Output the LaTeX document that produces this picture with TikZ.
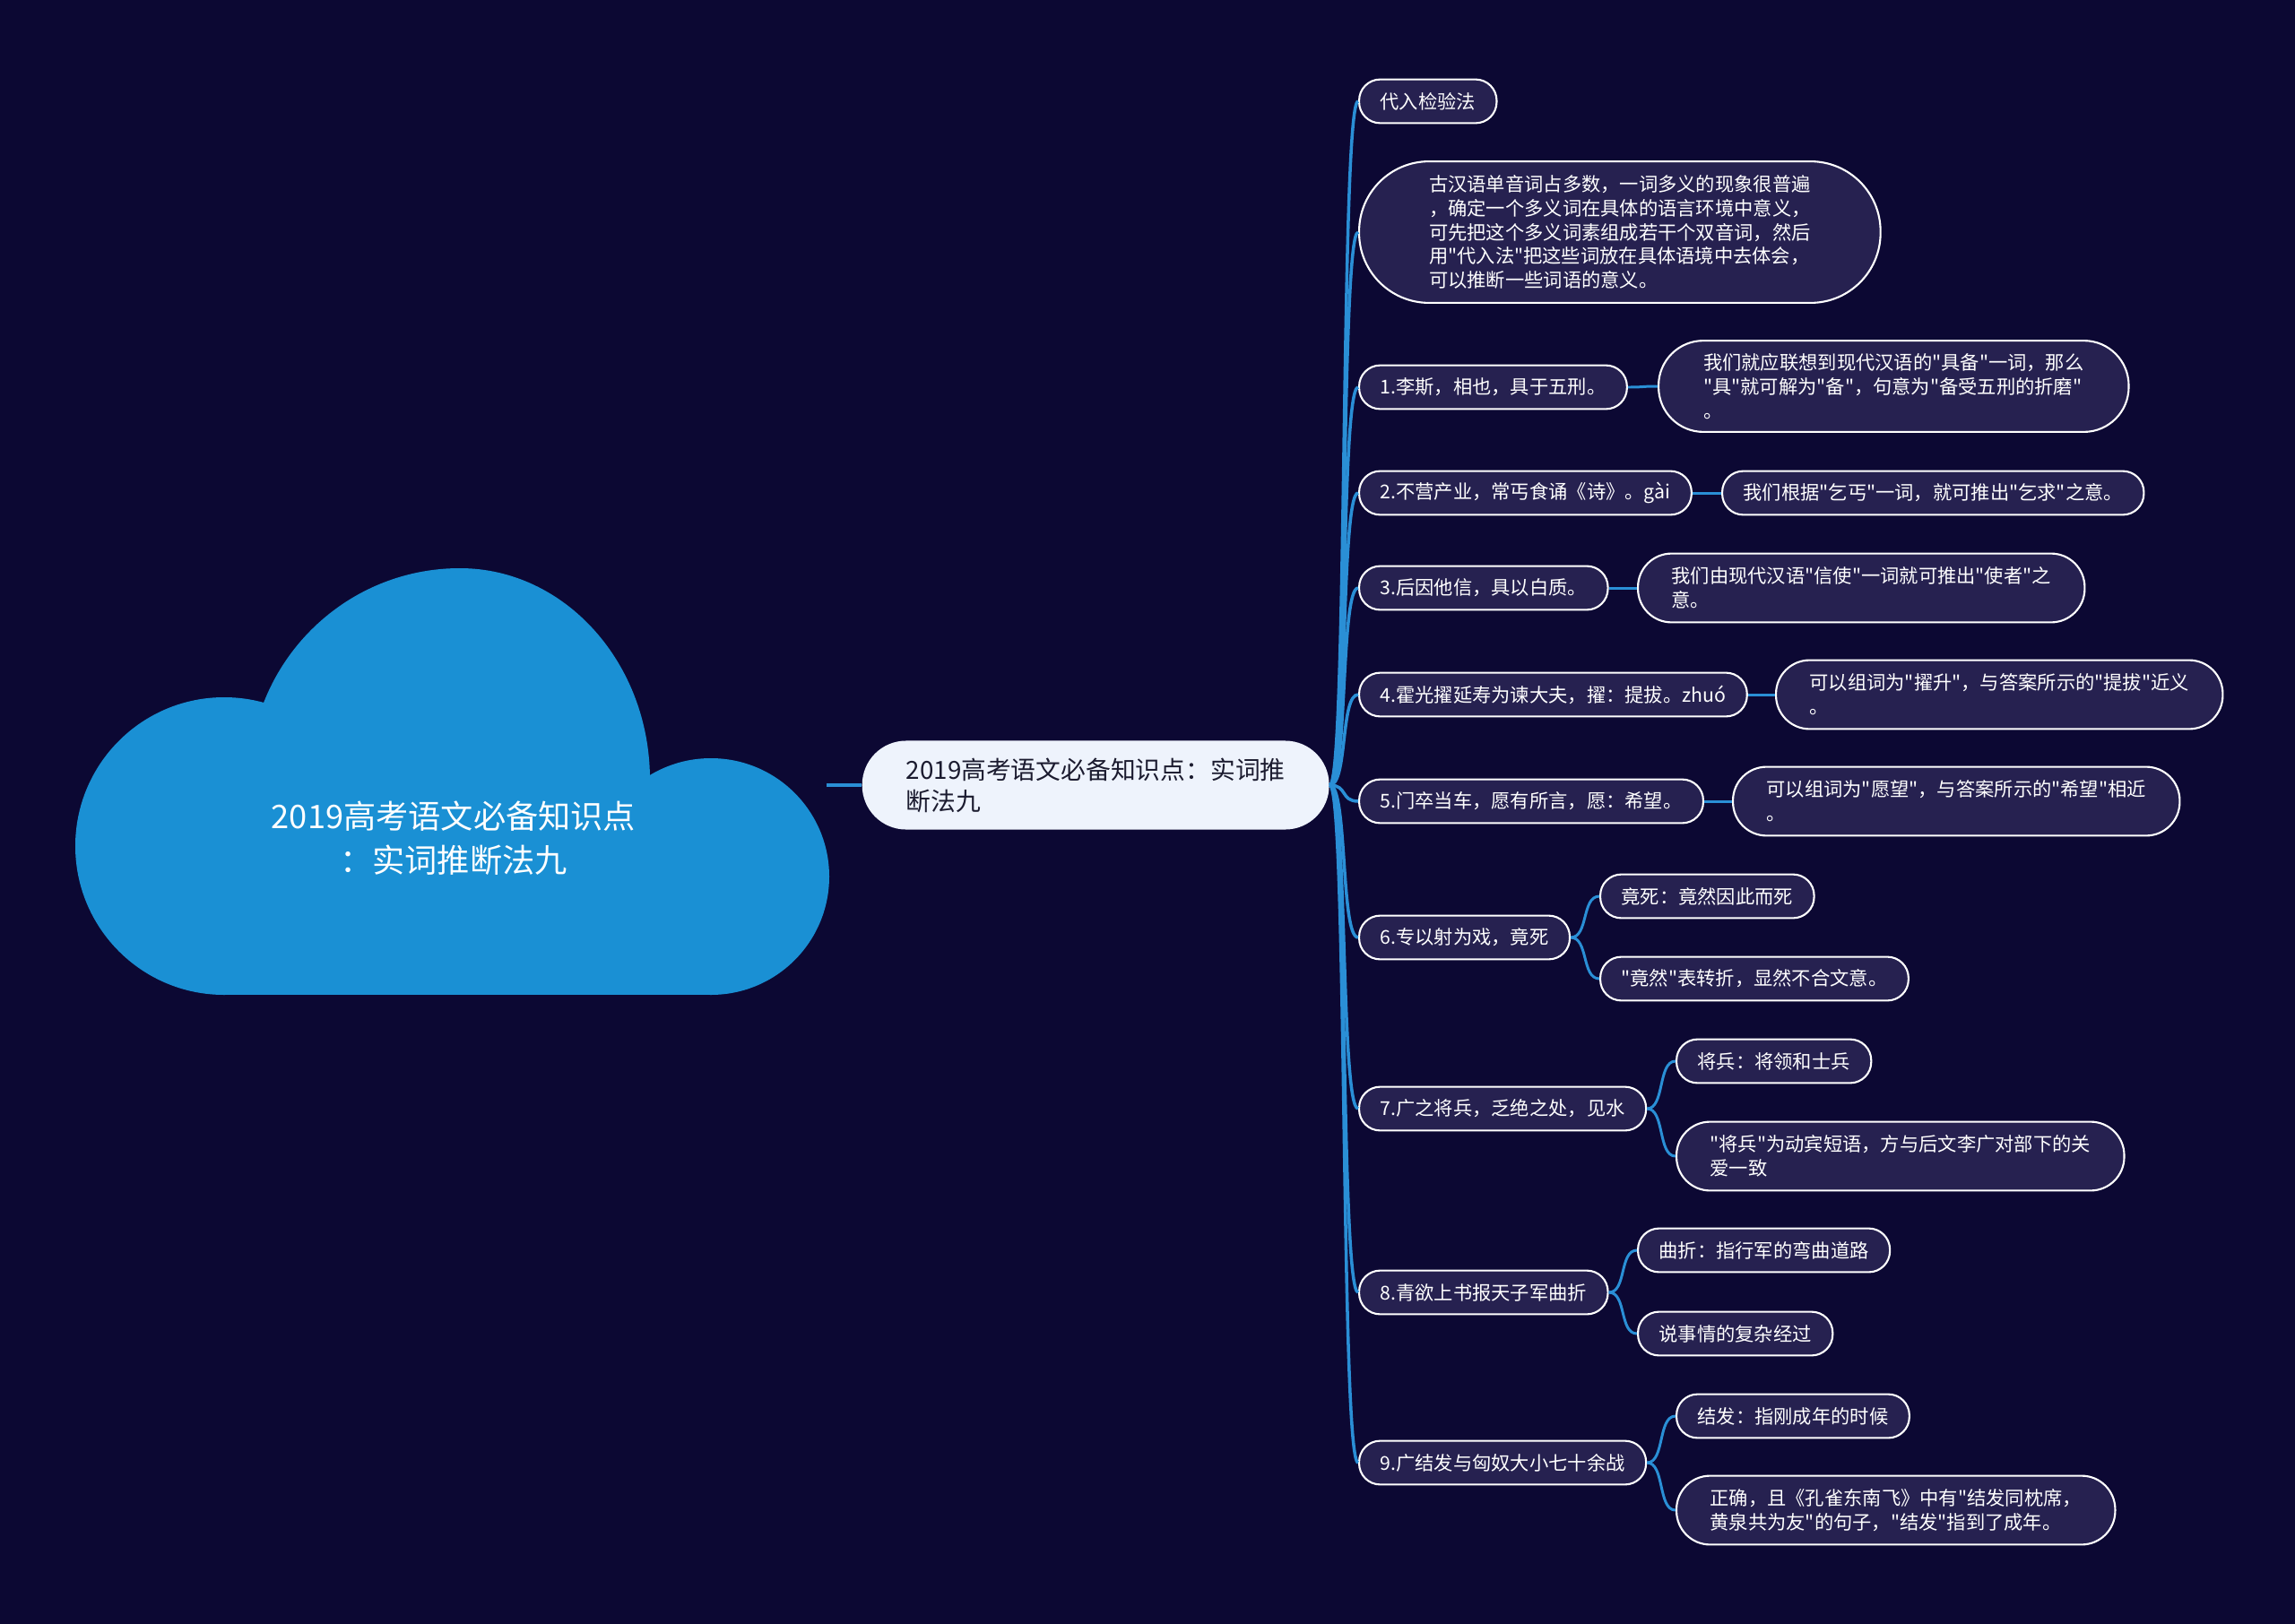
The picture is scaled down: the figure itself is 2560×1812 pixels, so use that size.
\documentclass[tikz,border=0pt]{standalone}
\usepackage{fontspec}
\setmainfont{Noto Sans CJK SC}[Ligatures=TeXOff]
\usetikzlibrary{positioning}
\definecolor{night}{HTML}{0C0833}
\definecolor{capsule}{HTML}{262150}
\definecolor{sky}{HTML}{1A90D4}
\definecolor{wire}{HTML}{2A8FD6}
\definecolor{paper}{HTML}{EEF3FC}
\definecolor{inkdark}{HTML}{1B1B2F}
\newcommand{\leaf}{\fontsize{6.05pt}{7.6pt}\selectfont}
\tikzset{
  % one capsule style; the argument is the half height (= side padding = corner radius)
  pill/.style={draw=white, fill=capsule, line width=0.6pt, text=white, font=\leaf, align=left, anchor=west,
               inner ysep=0pt, inner xsep=#1, minimum height=2*#1+0.5pt, rounded corners=#1},
  pill/.default=0.235cm,
  hubnode/.style={fill=paper, text=inkdark, align=left, anchor=west, font=\fontsize{7.9pt}{10pt}\selectfont,
                  inner ysep=0pt, inner xsep=0.49cm, minimum height=0.99cm, rounded corners=0.49cm},
  link/.style={wire, line width=1pt},
  sublink/.style={wire, line width=0.85pt},
}

\begin{document}
\begin{tikzpicture}[x=0.01cm, y=-0.01cm]
  \useasboundingbox (0,0) rectangle (2560,1812);
  \fill[night] (0,0) rectangle (2560,1812);

  % ---- the cloud on the left ----
  \begin{scope}
    \clip (0,0) rectangle (2560,1110);
    \fill[sky] (250,944) circle[radius=166];
    \fill[sky] (793,978) circle[radius=132];
    \fill[sky] (250,870) rectangle (793,1110);
    \begin{scope}
      \clip (0,0) rectangle (513,1110);
      \fill[sky] (513,870) ellipse[x radius=235, y radius=236];
    \end{scope}
    \begin{scope}
      \clip (513,0) rectangle (925,1110);
      \fill[sky] (513,870) ellipse[x radius=212, y radius=236];
    \end{scope}
  \end{scope}
  \node[text=white, align=center, font=\fontsize{10.3pt}{14pt}\selectfont] (root) at (506,935)
        {2019高考语文必备知识点\\：实词推断法九};
  \coordinate (rim) at (922,876);

  % ---- hub ----
  \node[hubnode] (hub) at (961,876) {2019高考语文必备知识点：实词推\\断法九};
  \draw[link] (rim) -- (hub.west);

  % ---- first level ----
  \node[pill] (n0)  at (1515,113)  {代入检验法};
  \node[pill=0.78cm] (n1) at (1515,259)
        {古汉语单音词占多数，一词多义的现象很普遍\\，确定一个多义词在具体的语言环境中意义，\\可先把这个多义词素组成若干个双音词，然后\\用"代入法"把这些词放在具体语境中去体会，\\可以推断一些词语的意义。};
  \node[pill] (n2)  at (1515,432)  {1.李斯，相也，具于五刑。};
  \node[pill] (n3)  at (1515,550)  {2.不营产业，常丐食诵《诗》。gài};
  \node[pill] (n4)  at (1515,656)  {3.后因他信，具以白质。};
  \node[pill] (n5)  at (1515,775)  {4.霍光擢延寿为谏大夫，擢：提拔。zhuó};
  \node[pill] (n6)  at (1515,894)  {5.门卒当车，愿有所言，愿：希望。};
  \node[pill] (n7)  at (1515,1046) {6.专以射为戏，竟死};
  \node[pill] (n8)  at (1515,1237) {7.广之将兵，乏绝之处，见水};
  \node[pill] (n9)  at (1515,1442) {8.青欲上书报天子军曲折};
  \node[pill] (n10) at (1515,1632) {9.广结发与匈奴大小七十余战};

  \foreach \k in {0,...,10}
    \draw[link] (hub.east) .. controls +(20,0) and +(-20,0) .. (n\k.west);

  % ---- second level ----
  \node[pill=0.5cm]   (c2)   at (1849,431)  {我们就应联想到现代汉语的"具备"一词，那么\\"具"就可解为"备"，句意为"备受五刑的折磨"\\。};
  \node[pill]         (c3)   at (1920,550)  {我们根据"乞丐"一词，就可推出"乞求"之意。};
  \node[pill=0.375cm] (c4)   at (1826,656)  {我们由现代汉语"信使"一词就可推出"使者"之\\意。};
  \node[pill=0.375cm] (c5)   at (1980,775)  {可以组词为"擢升"，与答案所示的"提拔"近义\\。};
  \node[pill=0.375cm] (c6)   at (1932,894)  {可以组词为"愿望"，与答案所示的"希望"相近\\。};
  \node[pill]         (c7a)  at (1784,1000) {竟死：竟然因此而死};
  \node[pill]         (c7b)  at (1784,1092) {"竟然"表转折，显然不合文意。};
  \node[pill]         (c8a)  at (1869,1184) {将兵：将领和士兵};
  \node[pill=0.375cm] (c8b)  at (1869,1290) {"将兵"为动宾短语，方与后文李广对部下的关\\爱一致};
  \node[pill]         (c9a)  at (1826,1395) {曲折：指行军的弯曲道路};
  \node[pill]         (c9b)  at (1826,1488) {说事情的复杂经过};
  \node[pill]         (c10a) at (1869,1580) {结发：指刚成年的时候};
  \node[pill=0.375cm] (c10b) at (1869,1685) {正确，且《孔雀东南飞》中有"结发同枕席，\\黄泉共为友"的句子，"结发"指到了成年。};

  \foreach \p/\c in {n2/c2, n3/c3, n4/c4, n5/c5, n6/c6, n7/c7a, n7/c7b, n8/c8a, n8/c8b,
                     n9/c9a, n9/c9b, n10/c10a, n10/c10b}
    \draw[sublink] (\p.east) .. controls +(20,0) and +(-20,0) .. (\c.west);
\end{tikzpicture}
\end{document}
